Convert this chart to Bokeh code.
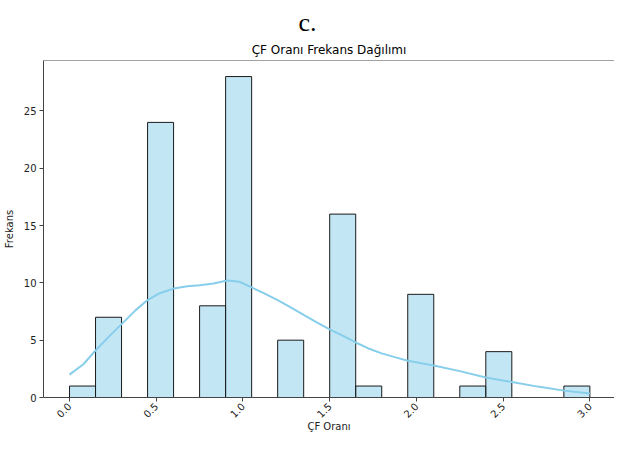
from bokeh.plotting import figure
from bokeh.models import Title, FixedTicker, Range1d, Span, ColumnDataSource
from bokeh.embed import file_html
from bokeh.resources import INLINE
import math

# ---- data ----
bin_edges = [0.0, 0.15, 0.3, 0.45, 0.6, 0.75, 0.9, 1.05, 1.2, 1.35, 1.5,
             1.65, 1.8, 1.95, 2.1, 2.25, 2.4, 2.55, 2.7, 2.85, 3.0]
counts = [1, 7, 0, 24, 0, 8, 28, 0, 5, 0, 16, 1, 0, 9, 0, 1, 4, 0, 0, 1]

kde_x = [0.0, 0.08, 0.15, 0.22, 0.3, 0.38, 0.45, 0.52, 0.6, 0.68, 0.75, 0.83,
         0.91, 0.98, 1.05, 1.12, 1.2, 1.27, 1.35, 1.42, 1.5, 1.58, 1.65, 1.72,
         1.8, 1.88, 1.95, 2.1, 2.25, 2.4, 2.55, 2.7, 2.85, 3.0]
kde_y = [2.0, 2.9, 4.1, 5.2, 6.4, 7.6, 8.5, 9.1, 9.5, 9.7, 9.8, 9.95,
         10.2, 10.1, 9.6, 9.1, 8.5, 7.9, 7.2, 6.6, 5.95, 5.35, 4.8, 4.3,
         3.85, 3.5, 3.2, 2.8, 2.3, 1.75, 1.35, 0.95, 0.6, 0.35]

x_ticks = [0.0, 0.5, 1.0, 1.5, 2.0, 2.5, 3.0]
y_ticks = [0, 5, 10, 15, 20, 25]

title_text = "ÇF Oranı Frekans Dağılımı"
panel_label = "c."
x_label = "ÇF Oranı"
y_label = "Frekans"

# ---- figure ----
p = figure(width=614, height=435, output_backend="svg", toolbar_location=None,
           x_range=Range1d(-0.15, 3.142), y_range=Range1d(0, 29.4),
           min_border_left=34, min_border_right=0, min_border_top=0,
           min_border_bottom=0)

# outer panel label
p.title.text = panel_label
p.title.text_font = "Liberation Serif"
p.title.text_font_size = "26px"
p.title.text_font_style = "normal"
p.title.align = "left"
p.title.offset = 255
p.title.text_color = "#000000"
p.title.standoff = 0
p.title.padding = dict(left=0, right=0, top=5, bottom=0)

# axes title (closer to the frame)
p.add_layout(Title(text=title_text, text_font="DejaVu Sans",
                   text_font_size="12px", text_font_style="normal",
                   align="center", text_color="#000000", standoff=8), "above")

lefts = [bin_edges[i] for i in range(len(counts)) if counts[i] > 0]
rights = [bin_edges[i + 1] for i in range(len(counts)) if counts[i] > 0]
tops = [c for c in counts if c > 0]
src = ColumnDataSource(dict(left=lefts, right=rights, top=tops))
p.quad(left="left", right="right", bottom=0, top="top", source=src,
       fill_color="#87CEEB", fill_alpha=0.5, line_color="#1a1a1a", line_width=1)

p.line(kde_x, kde_y, line_color="#87CEEB", line_width=2)

p.xgrid.visible = False
p.ygrid.visible = False
p.outline_line_color = None
p.background_fill_color = "white"
p.border_fill_color = "white"

p.add_layout(Span(location=29.4, dimension="width", line_color="#444444",
                  line_width=1))

for ax in (p.xaxis[0], p.yaxis[0]):
    ax.axis_line_color = "#444444"
    ax.major_tick_line_color = "#444444"
    ax.major_tick_out = 4
    ax.major_tick_in = 0
    ax.minor_tick_line_color = None
    ax.major_label_text_font = "DejaVu Sans"
    ax.major_label_text_font_size = "10px"
    ax.major_label_text_color = "#222222"
    ax.axis_label_text_font = "DejaVu Sans"
    ax.axis_label_text_font_size = "10px"
    ax.axis_label_text_font_style = "normal"
    ax.axis_label_text_color = "#222222"

p.xaxis.ticker = FixedTicker(ticks=x_ticks)
p.xaxis.major_label_overrides = {t: f"{t:.1f}" for t in x_ticks}
p.xaxis.major_label_orientation = math.pi / 4
p.xaxis.major_label_standoff = 3
p.xaxis.axis_label = x_label
p.xaxis.axis_label_standoff = -3

p.yaxis.ticker = FixedTicker(ticks=y_ticks)
p.yaxis.major_label_standoff = 3
p.yaxis.axis_label = y_label
p.yaxis.axis_label_standoff = 6

open("out.html", "w").write(file_html(p, INLINE))
